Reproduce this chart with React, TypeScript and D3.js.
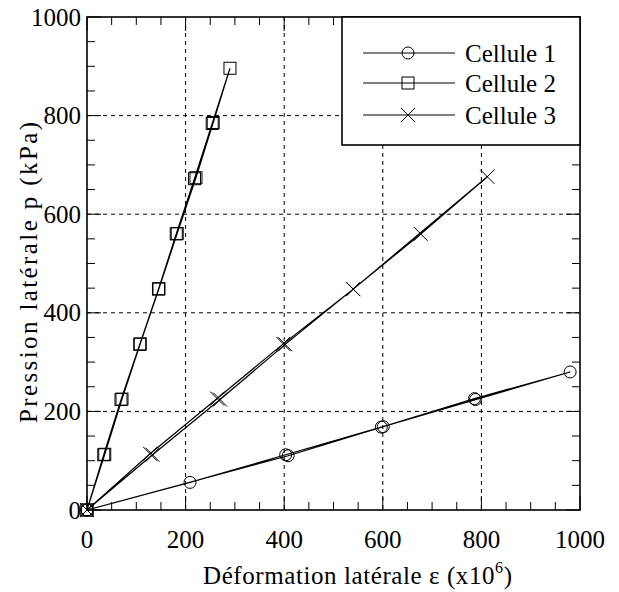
import React from "react";
import * as d3 from "d3";

// Strain (x10^6) and lateral pressure (kPa) for each cell, loading then unloading
const cell1Strain = [0, 209, 403, 597, 788, 980, 786, 601, 408, 0];
const cell1Pressure = [0, 56, 112, 168, 224, 280, 226, 169, 110, 0];

const cell2Strain = [0, 34, 69, 107, 145, 181, 218, 254, 290, 256, 221, 183, 146, 108, 71, 36, 0];
const cell2Pressure = [0, 112, 224, 336, 448, 560, 672, 784, 896, 786, 674, 561, 449, 337, 225, 113, 0];

const cell3Strain = [0, 133, 270, 402, 540, 677, 812, 540, 398, 264, 128, 0];
const cell3Pressure = [0, 112, 224, 336, 448, 560, 676, 448, 337, 226, 114, 0];

const seriesNames = ["Cellule 1", "Cellule 2", "Cellule 3"];
const markerKinds = ["circle", "square", "cross"];

const majorTicks = [0, 200, 400, 600, 800, 1000];
const gridTicks = [200, 400, 600, 800];
const minorTicks = d3.range(0, 1001, 50);

const W = 619;
const H = 592;
const left = 87;
const right = 580;
const top = 17;
const bottom = 510;
const FONT = "'Liberation Serif', 'Times New Roman', serif";

function Marker({ kind, x, y }: { kind: string; x: number; y: number }) {
  if (kind === "circle") return <circle cx={x} cy={y} r={6} fill="none" stroke="#000" strokeWidth={1} />;
  if (kind === "square") return <rect x={x - 6} y={y - 6} width={12} height={12} fill="none" stroke="#000" strokeWidth={1} />;
  return (
    <path d={`M${x - 7},${y - 7}L${x + 7},${y + 7}M${x - 7},${y + 7}L${x + 7},${y - 7}`} stroke="#000" strokeWidth={1} fill="none" />
  );
}

export default function App() {
  const x = d3.scaleLinear().domain([0, 1000]).range([left, right]);
  const y = d3.scaleLinear().domain([0, 1000]).range([bottom, top]);

  const series = [
    d3.zip(cell1Strain, cell1Pressure),
    d3.zip(cell2Strain, cell2Pressure),
    d3.zip(cell3Strain, cell3Pressure),
  ];
  const line = d3
    .line<number[]>()
    .x((d) => x(d[0]))
    .y((d) => y(d[1]));

  const legendX0 = 342;
  const legendY0 = top;
  const legendRows = [53, 83, 115];

  return (
    <svg width={W} height={H} style={{ position: "absolute", left: 0, top: 0, background: "#fff" }} fontFamily={FONT}>
      <rect x={0} y={0} width={W} height={H} fill="#fff" />
      {/* dashed grid */}
      {gridTicks.map((t) => (
        <line key={"gx" + t} x1={x(t)} x2={x(t)} y1={top} y2={bottom} stroke="#000" strokeWidth={1} strokeDasharray="4,4" />
      ))}
      {gridTicks.map((t) => (
        <line key={"gy" + t} x1={left} x2={right} y1={y(t)} y2={y(t)} stroke="#000" strokeWidth={1} strokeDasharray="4,4" />
      ))}
      {/* inward ticks on all four sides */}
      {minorTicks.map((t) => {
        const len = t % 200 === 0 ? 14 : 8;
        return (
          <g key={"t" + t} stroke="#000" strokeWidth={1}>
            <line x1={x(t)} x2={x(t)} y1={bottom} y2={bottom - len} />
            <line x1={x(t)} x2={x(t)} y1={top} y2={top + len} />
            <line x1={left} x2={left + len} y1={y(t)} y2={y(t)} />
            <line x1={right} x2={right - len} y1={y(t)} y2={y(t)} />
          </g>
        );
      })}
      {/* series */}
      {series.map((pts, i) => (
        <g key={"s" + i}>
          <path d={line(pts) ?? ""} fill="none" stroke="#000" strokeWidth={1.2} />
          {pts.map((p, j) => (
            <Marker key={j} kind={markerKinds[i]} x={x(p[0])} y={y(p[1])} />
          ))}
        </g>
      ))}
      {/* frame */}
      <rect x={left} y={top} width={right - left} height={bottom - top} fill="none" stroke="#000" strokeWidth={1.6} />
      {/* tick labels */}
      {majorTicks.map((t) => (
        <text key={"lx" + t} x={x(t)} y={548} textAnchor="middle" fontSize={25} fill="#000">
          {t}
        </text>
      ))}
      {majorTicks.map((t) => (
        <text key={"ly" + t} x={81} y={y(t)} dy="0.34em" textAnchor="end" fontSize={25} fill="#000">
          {t}
        </text>
      ))}
      {/* axis titles */}
      <text x={203} y={584} fontSize={25} fill="#000" textLength={309} lengthAdjust="spacing">
        Déformation latérale ε (x10
        <tspan fontSize={16} dy={-11}>6</tspan>
        <tspan dy={11}>)</tspan>
      </text>
      <text transform={`translate(37,423) rotate(-90)`} fontSize={25} fill="#000" textLength={301} lengthAdjust="spacing">
        Pression latérale p (kPa)
      </text>
      {/* legend */}
      <rect x={legendX0} y={legendY0} width={right - legendX0} height={145 - legendY0} fill="#fff" stroke="#000" strokeWidth={1.6} />
      {seriesNames.map((name, i) => (
        <g key={name}>
          <line x1={363} x2={455} y1={legendRows[i]} y2={legendRows[i]} stroke="#000" strokeWidth={1} />
          <Marker kind={markerKinds[i]} x={408} y={legendRows[i]} />
          <text x={465} y={legendRows[i]} dy="0.34em" fontSize={25} fill="#000">
            {name}
          </text>
        </g>
      ))}
    </svg>
  );
}
